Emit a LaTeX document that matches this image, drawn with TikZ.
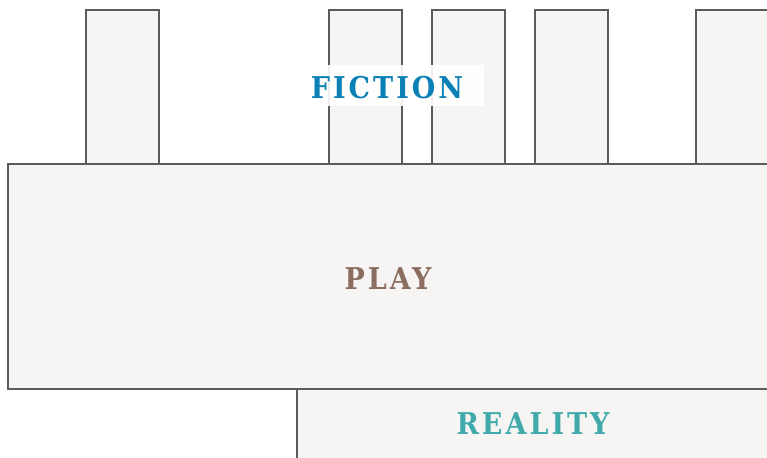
\documentclass[tikz,border=0pt]{standalone}
\usepackage{fontspec}
\newfontfamily\labelfont[LetterSpace=10]{DejaVu Serif Condensed}
\definecolor{boxfill}{HTML}{F6F5F3}
\definecolor{boxline}{HTML}{5C5C5C}
\definecolor{fictionblue}{HTML}{0A80B6}
\definecolor{playbrown}{HTML}{8B6E60}
\definecolor{realityteal}{HTML}{40AAAB}
\tikzset{
  block/.style={draw=boxline, fill=boxfill, line width=2pt},
  tag/.style={font=\labelfont\bfseries\fontsize{30}{30}\selectfont, inner sep=0pt}
}
\begin{document}
\begin{tikzpicture}[x=1pt, y=-1pt]
\useasboundingbox (0,0) rectangle (767,457);
\clip (0,0) rectangle (767,457);
\fill[white] (0,0) rectangle (767,457);
% fingers of fiction
\draw[block] (86,10) rectangle (159,164);
\draw[block] (329,10) rectangle (402,164);
\draw[block] (432,10) rectangle (505,164);
\draw[block] (535,10) rectangle (608,164);
\draw[block] (696,10) rectangle (790,164);
% play and reality
\draw[block] (8,164) rectangle (790,389);
\draw[block] (297,389) rectangle (790,480);
% labels
\fill[white, fill opacity=0.9] (303,65) rectangle (484,106);
\node[tag, text=fictionblue] (fiction) at (387,88) {FICTION};
\node[tag, text=playbrown] (play) at (388,279) {PLAY};
\node[tag, text=realityteal] (reality) at (533,424) {REALITY};
\end{tikzpicture}
\end{document}
